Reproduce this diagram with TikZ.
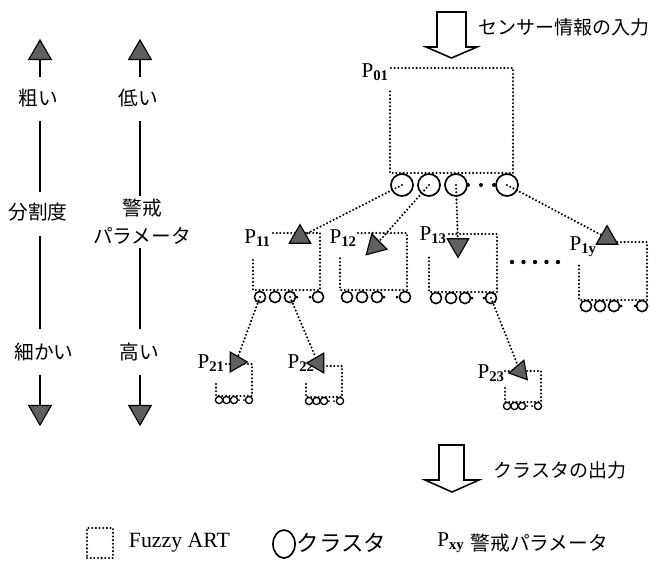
\documentclass[tikz,border=0pt]{standalone}
\usepackage{fontspec}
\setmainfont{Liberation Serif}
\newfontfamily\jpfont{Noto Sans CJK JP}
\usetikzlibrary{shapes.geometric}

\begin{document}
\begin{tikzpicture}[
    x=0.025cm, y=-0.025cm,
    % --- Styles ---
    jp_text/.style={font=\jpfont\fontsize{14}{16}\selectfont, inner sep=1pt, align=center},
    p_label/.style={font=\fontsize{15}{17}\selectfont, inner sep=0pt, anchor=east},
    art_edge/.style={dash pattern=on 0pt off 2.6pt, line cap=round, line width=1.65pt},
    clust_big/.style={circle, draw, line width=1.2pt, inner sep=0pt, minimum size=0.55cm},
    clust_mid/.style={circle, draw, line width=1.1pt, inner sep=0pt, minimum size=0.28cm},
    clust_small/.style={circle, draw, line width=0.9pt, inner sep=0pt, minimum size=0.18cm},
    blob/.style={circle, fill=black, inner sep=0pt, minimum size=#1},
    tri/.style={regular polygon, regular polygon sides=3, draw=black, fill=triGrey, line width=0.8pt, inner sep=0pt, minimum size=#1},
    bar/.style={line width=1.5pt},
    hollow_arrow/.style={draw, line width=1.1pt, line join=miter}
]

    % --- Colors ---
    \definecolor{triGrey}{RGB}{95,95,95} % Arrow head grey

    \useasboundingbox (0,0) rectangle (657,561);

    % ==========================
    % 1. LEFT SCALES
    % ==========================

    % Scale 1: granularity
    \node[tri=0.65cm] (up_a) at (40,53) {};
    \node[jp_text] (coarse) at (38,98) {粗い};
    \node[jp_text] (div) at (38,212) {分割度};
    \node[jp_text] (fine) at (44,352) {細かい};
    \node[tri=0.65cm, shape border rotate=180] (dn_a) at (40,412) {};

    \draw[bar, shorten >=0.25cm] (up_a.south) -- (up_a.south |- coarse.north);
    \draw[bar, shorten <=0.3cm, shorten >=0.22cm] (coarse.south -| up_a.south) -- (div.north -| up_a.south);
    \draw[bar, shorten <=0.32cm, shorten >=0.3cm] (div.south -| up_a.south) -- (fine.north -| up_a.south);
    \draw[bar, shorten <=0.3cm] (fine.south -| dn_a.north) -- (dn_a.north);

    % Scale 2: vigilance parameter
    \node[tri=0.65cm] (up_b) at (140,53) {};
    \node[jp_text] (low) at (138,98) {低い};
    \node[jp_text, font=\jpfont\fontsize{14}{20}\selectfont] (vig) at (142,222) {警戒\\パラメータ};
    \node[jp_text] (high) at (139,352) {高い};
    \node[tri=0.65cm, shape border rotate=180] (dn_b) at (140,412) {};

    \draw[bar, shorten >=0.25cm] (up_b.south) -- (up_b.south |- low.north);
    \draw[bar, shorten <=0.3cm, shorten >=0.03cm] (low.south -| up_b.south) -- (vig.north -| up_b.south);
    \draw[bar, shorten <=0.03cm, shorten >=0.3cm] (vig.south -| up_b.south) -- (high.north -| up_b.south);
    \draw[bar, shorten <=0.3cm] (high.south -| dn_b.north) -- (dn_b.north);

    % ==========================
    % 2. INPUT / OUTPUT ARROWS
    % ==========================

    \draw[hollow_arrow] (437,12) -- (437,47) -- (426,47) -- (451.5,58) -- (477,47) -- (466,47) -- (466,12) -- cycle;
    \node[jp_text, anchor=west, font=\jpfont\fontsize{13.5}{16}\selectfont] (in_txt) at (477,27) {センサー情報の入力};

    \draw[hollow_arrow] (439,445) -- (439,480) -- (425,480) -- (452,492) -- (479,480) -- (464,480) -- (464,445) -- cycle;
    \node[jp_text, anchor=west, font=\jpfont\fontsize{13.5}{16}\selectfont] (out_txt) at (492,470) {クラスタの出力};

    % ==========================
    % 3. ROOT ART: P01
    % ==========================

    \node[p_label] (p01) at (389,72) {P\textsubscript{\textbf{01}}};
    \draw[art_edge] (391,68) -- (513,68) -- (513,173) -- (390,173) -- (390,90);
    \foreach \x [count=\i] in {402,429,456,507} {
        \node[clust_big] (c01-\i) at (\x,185) {};
    }
    \foreach \x in {468,481,494} {
        \node[blob=0.1cm] at (\x,185) {};
    }

    % ==========================
    % 4. LEVEL 1 ARTS
    % ==========================

    % P11
    \node[p_label] (p11) at (271,238) {P\textsubscript{\textbf{11}}};
    \draw[art_edge] (273,233) -- (320,233) -- (320,290) -- (253,290) -- (253,257);
    \foreach \x [count=\i] in {260,275,290,318} {
        \node[clust_mid] (c11-\i) at (\x,297) {};
    }
    \foreach \x in {297,310} { \node[blob=0.075cm] at (\x,297) {}; }

    % P12
    \node[p_label] (p12) at (357,238) {P\textsubscript{\textbf{12}}};
    \draw[art_edge] (358,233) -- (407,233) -- (407,290) -- (340,290) -- (340,257);
    \foreach \x [count=\i] in {347,362,377,405} {
        \node[clust_mid] (c12-\i) at (\x,297) {};
    }
    \foreach \x in {384,397} { \node[blob=0.075cm] at (\x,297) {}; }

    % P13
    \node[p_label] (p13) at (447,235) {P\textsubscript{\textbf{13}}};
    \draw[art_edge] (449,234) -- (497,234) -- (497,292) -- (429,292) -- (429,257);
    \foreach \x [count=\i] in {436,451,465,491} {
        \node[clust_mid] (c13-\i) at (\x,298) {};
    }
    \foreach \x in {472,484} { \node[blob=0.075cm] at (\x,298) {}; }

    % gap dots
    \foreach \x in {512,523.5,535,546.5,558} {
        \node[blob=0.11cm] at (\x,262) {};
    }

    % P1y
    \node[p_label] (p1y) at (597,247) {P\textsubscript{\textbf{1y}}};
    \draw[art_edge] (599,242) -- (647,242) -- (647,300) -- (579,300) -- (579,263);
    \foreach \x [count=\i] in {586,600,614,642} {
        \node[clust_mid] (c1y-\i) at (\x,306) {};
    }
    \foreach \x in {621,635} { \node[blob=0.075cm] at (\x,306) {}; }

    % ==========================
    % 5. LEVEL 2 ARTS
    % ==========================

    % P21
    \node[p_label] (p21) at (225,363) {P\textsubscript{\textbf{21}}};
    \draw[art_edge] (226,364) -- (252,364) -- (252,396) -- (216,396) -- (216,382);
    \foreach \x [count=\i] in {219,226.5,234,249} {
        \node[clust_small] (c21-\i) at (\x,400) {};
    }
    \foreach \x in {239,244} { \node[blob=0.05cm] at (\x,400) {}; }

    % P22
    \node[p_label] (p22) at (315,363) {P\textsubscript{\textbf{22}}};
    \draw[art_edge] (316,366) -- (342,366) -- (342,397) -- (306,397) -- (306,383);
    \foreach \x [count=\i] in {309,316.5,324,340} {
        \node[clust_small] (c22-\i) at (\x,401) {};
    }
    \foreach \x in {329,334} { \node[blob=0.05cm] at (\x,401) {}; }

    % P23
    \node[p_label] (p23) at (505,373) {P\textsubscript{\textbf{23}}};
    \draw[art_edge] (505,371) -- (541,371) -- (541,402) -- (505,402) -- (505,388);
    \foreach \x [count=\i] in {507,514.5,522,538} {
        \node[clust_small] (c23-\i) at (\x,406) {};
    }
    \foreach \x in {527,532} { \node[blob=0.05cm] at (\x,406) {}; }

    % ==========================
    % 6. LINKS + ARROW HEADS
    % ==========================

    \node[tri=0.62cm] (t11) at (300,237) {};
    \node[tri=0.62cm, shape border rotate=135] (t12) at (375,246) {};
    \node[tri=0.62cm, shape border rotate=180] (t13) at (458,245) {};
    \node[tri=0.62cm] (t1y) at (607,238) {};
    \node[tri=0.57cm, shape border rotate=-90] (t21) at (236,362) {};
    \node[tri=0.57cm, shape border rotate=90] (t22) at (318,363) {};
    \node[tri=0.57cm, shape border rotate=100] (t23) at (520,371) {};

    \draw[art_edge] (c01-1.center) -- (t11);
    \draw[art_edge] (c01-2.center) -- (t12);
    \draw[art_edge] (c01-3.center) -- (t13);
    \draw[art_edge] (c01-4.center) -- (t1y);
    \draw[art_edge] (c11-1.center) -- (t21);
    \draw[art_edge] (c11-3.center) -- (t22);
    \draw[art_edge] (c13-4.center) -- (t23);

    % ==========================
    % 7. LEGEND
    % ==========================

    \node[draw, art_edge, minimum width=0.65cm, minimum height=0.75cm] (lg_box) at (100,543) {};
    \node[anchor=west, font=\fontsize{15.5}{18}\selectfont] (lg_art) at (124,543) {Fuzzy ART};
    \node[ellipse, draw, line width=1.2pt, minimum width=0.55cm, minimum height=0.7cm, inner sep=0pt] (lg_circ) at (284,544) {};
    \node[jp_text, anchor=west, font=\jpfont\fontsize{16}{18}\selectfont] (lg_clust) at (295,543) {クラスタ};
    \node[anchor=west, font=\fontsize{15}{18}\selectfont, inner sep=0pt] (lg_pxy) at (437,543) {P\textsubscript{\textbf{xy}}};
    \node[jp_text, anchor=west] (lg_vig) at (469,543) {警戒パラメータ};

\end{tikzpicture}
\end{document}
